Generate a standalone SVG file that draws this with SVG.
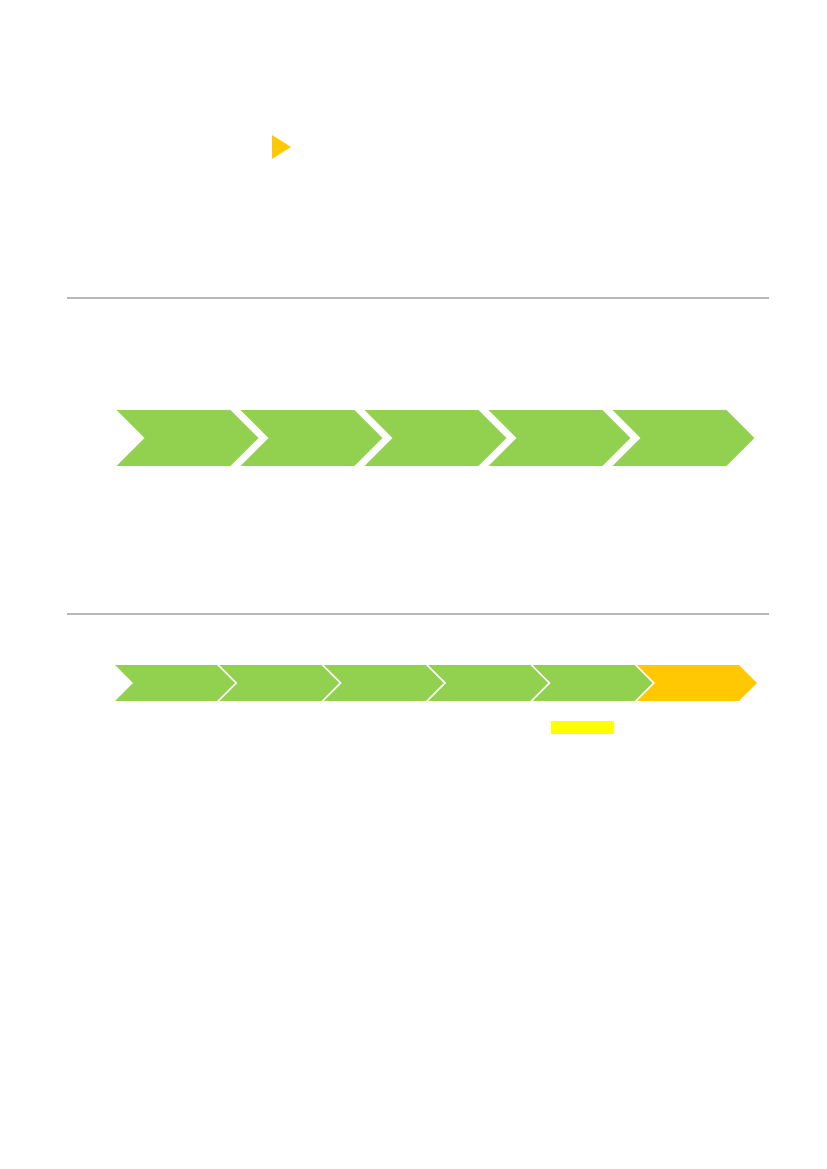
<svg xmlns="http://www.w3.org/2000/svg" width="827" height="1169" viewBox="0 0 827 1169">
<style>
.g{fill:#92D050}
.o{fill:#FFC800}
.rule{stroke:#A0A0A0;stroke-width:1.6;fill:none}
</style>
<defs>
<polygon id="big" points="0,0 114,0 142,28 114,56 0,56 28,28"/>
<polygon id="small" points="0,0 102,0 120,18 102,36 0,36 18,18"/>
</defs>
<rect width="827" height="1169" fill="#FFFFFF"/>
<g id="marker-triangle"><polygon points="272,135 291,147 272,159" class="o"/></g>
<g id="rules">
<line class="rule" x1="67" y1="298" x2="769" y2="298"/>
<line class="rule" x1="67" y1="614" x2="769" y2="614"/>
</g>
<g id="row1">
<g id="r1c1"><use href="#big" x="116.5" y="410" class="g"/></g>
<g id="r1c2"><use href="#big" x="240.5" y="410" class="g"/></g>
<g id="r1c3"><use href="#big" x="364.5" y="410" class="g"/></g>
<g id="r1c4"><use href="#big" x="488.5" y="410" class="g"/></g>
<g id="r1c5"><use href="#big" x="612.5" y="410" class="g"/></g>
</g>
<g id="row2">
<g id="r2c1"><use href="#small" x="115" y="665" class="g"/></g>
<g id="r2c2"><use href="#small" x="219.4" y="665" class="g"/></g>
<g id="r2c3"><use href="#small" x="323.8" y="665" class="g"/></g>
<g id="r2c4"><use href="#small" x="428.2" y="665" class="g"/></g>
<g id="r2c5"><use href="#small" x="532.6" y="665" class="g"/></g>
<g id="r2c6"><use href="#small" x="637" y="665" class="o"/></g>
</g>
<g id="highlight"><rect x="551" y="721" width="63" height="13" fill="#FFFF00"/></g>
<g id="connectors"/>
</svg>
